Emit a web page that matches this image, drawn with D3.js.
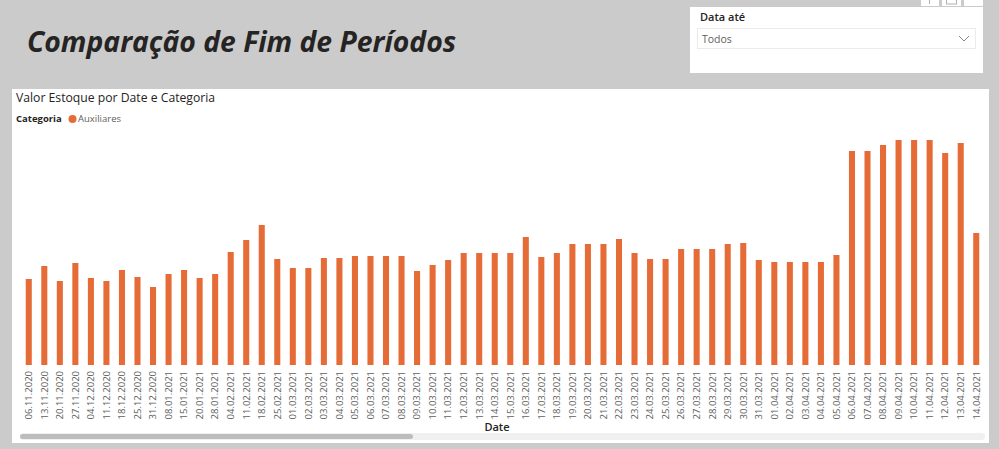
<!DOCTYPE html>
<html>
<head>
<meta charset="utf-8">
<script src="https://cdn.jsdelivr.net/npm/d3@7"></script>
<style>
  body { margin: 0; background: #cbcbcb; }
  svg { display: block; }
</style>
</head>
<body>
<div id="chart"></div>
<script>
// data
var dates = ["06.11.2020","13.11.2020","20.11.2020","27.11.2020","04.12.2020","11.12.2020","18.12.2020","25.12.2020","31.12.2020",
  "08.01.2021","15.01.2021","20.01.2021","28.01.2021","04.02.2021","11.02.2021","18.02.2021","25.02.2021",
  "01.03.2021","02.03.2021","03.03.2021","04.03.2021","05.03.2021","06.03.2021","07.03.2021","08.03.2021","09.03.2021","10.03.2021",
  "11.03.2021","12.03.2021","13.03.2021","14.03.2021","15.03.2021","16.03.2021","17.03.2021","18.03.2021","19.03.2021","20.03.2021",
  "21.03.2021","22.03.2021","23.03.2021","24.03.2021","25.03.2021","26.03.2021","27.03.2021","28.03.2021","29.03.2021","30.03.2021",
  "31.03.2021","01.04.2021","02.04.2021","03.04.2021","04.04.2021","05.04.2021","06.04.2021","07.04.2021","08.04.2021","09.04.2021",
  "10.04.2021","11.04.2021","12.04.2021","13.04.2021","14.04.2021"];
var auxiliares = [86, 99, 84, 102, 87, 84, 95, 88, 78,
  91, 95, 87, 91, 113, 125, 140, 106,
  97, 97, 107, 107, 109, 109, 109, 109, 94, 100,
  105, 112, 112, 112, 112, 128, 108, 112, 121, 121,
  121, 126, 112, 106, 106, 116, 116, 116, 121, 122,
  105, 103, 103, 103, 103, 110, 214, 214, 220, 225,
  225, 225, 212, 222, 132];
var categories = ["Auxiliares"];

var width = 999, height = 449;
var svg = d3.select("#chart")
  .append("svg")
    .attr("width", width)
    .attr("height", height);

// page background
svg.append("rect").attr("width", width).attr("height", height).attr("fill", "#cbcbcb");

// page title
svg.append("text")
  .attr("x", 27)
  .attr("y", 52)
  .style("font-family", "'Open Sans', sans-serif")
  .style("font-weight", "700")
  .style("font-style", "italic")
  .style("font-size", "28.3px")
  .attr("fill", "#252423")
  .text("Comparação de Fim de Períodos");

// slicer header icons
[[921, 18], [942, 19], [964, 19]].forEach(function(d) {
  svg.append("rect").attr("x", d[0]).attr("y", 0).attr("width", d[1]).attr("height", 6)
    .attr("fill", "#ffffff");
});
svg.append("line").attr("x1", 929.5).attr("x2", 929.5).attr("y1", 0).attr("y2", 4).attr("stroke", "#b0b0b0");
svg.append("rect").attr("x", 946.5).attr("y", -1).attr("width", 10).attr("height", 5).attr("fill", "none").attr("stroke", "#b0b0b0");

// slicer
svg.append("rect").attr("x", 690).attr("y", 7).attr("width", 293).attr("height", 66).attr("fill", "#ffffff");
svg.append("text").attr("x", 700).attr("y", 21)
  .style("font-family", "'Open Sans', sans-serif").style("font-size", "11px").style("font-weight", "600")
  .attr("fill", "#252423").text("Data até");
svg.append("rect").attr("x", 697.5).attr("y", 28.5).attr("width", 278).attr("height", 20)
  .attr("fill", "#ffffff").attr("stroke", "#ebebeb");
svg.append("text").attr("x", 702).attr("y", 42.5)
  .style("font-family", "'Open Sans', sans-serif").style("font-size", "10.5px")
  .attr("fill", "#605e5c").text("Todos");
svg.append("path").attr("d", "M959,36 L964,41 L969,36").attr("fill", "none").attr("stroke", "#8a8886").attr("stroke-width", 1);

// visual container
svg.append("rect").attr("x", 12).attr("y", 89).attr("width", 977).attr("height", 354).attr("fill", "#ffffff");

svg.append("text").attr("x", 16).attr("y", 102)
  .style("font-family", "'Open Sans', sans-serif").style("font-size", "12.2px")
  .attr("fill", "#252423").text("Valor Estoque por Date e Categoria");

// legend
svg.append("text").attr("x", 16).attr("y", 122)
  .style("font-family", "'Open Sans', sans-serif").style("font-size", "9.5px").style("font-weight", "700")
  .attr("fill", "#252423").text("Categoria");
var color = d3.scaleOrdinal().domain(categories).range(["#e66c37"]);
svg.append("circle").attr("cx", 72.5).attr("cy", 119).attr("r", 4).attr("fill", color("Auxiliares"));
svg.append("text").attr("x", 78).attr("y", 122)
  .style("font-family", "'Open Sans', sans-serif").style("font-size", "9.5px")
  .attr("fill", "#605e5c").text("Auxiliares");

// scales
var x = d3.scaleBand()
  .domain(dates)
  .range([21, 984])
  .paddingInner(0.61)
  .paddingOuter(0.305);

var y = d3.scaleLinear()
  .domain([0, 235])
  .range([365, 130]);

// bars
svg.selectAll("rect.bar")
  .data(dates)
  .enter()
  .append("rect")
    .attr("class", "bar")
    .attr("x", function(d) { return x(d); })
    .attr("y", function(d, i) { return y(auxiliares[i]); })
    .attr("width", x.bandwidth())
    .attr("height", function(d, i) { return y(0) - y(auxiliares[i]); })
    .attr("fill", color("Auxiliares"));

// x axis
var xAxis = svg.append("g")
  .attr("transform", "translate(0,365)")
  .call(d3.axisBottom(x).tickSize(0));
xAxis.select(".domain").remove();
xAxis.selectAll("text")
  .attr("transform", "rotate(-90)")
  .attr("text-anchor", "end")
  .attr("x", -6)
  .attr("y", 0)
  .attr("dy", "0.35em")
  .style("font-family", "'Open Sans', sans-serif")
  .style("font-size", "9.5px")
  .attr("fill", "#605e5c");

// x axis title
svg.append("text")
  .attr("x", 497)
  .attr("y", 431)
  .attr("text-anchor", "middle")
  .style("font-family", "'Open Sans', sans-serif")
  .style("font-size", "11px")
  .style("font-weight", "600")
  .attr("fill", "#252423")
  .text("Date");

// scrollbar
svg.append("rect").attr("x", 20).attr("y", 433).attr("width", 965).attr("height", 7).attr("rx", 3.5).attr("fill", "#f0f0f0");
svg.append("rect").attr("x", 20).attr("y", 434).attr("width", 393).attr("height", 5).attr("rx", 2.5).attr("fill", "#bdbdbd");
</script>
</body>
</html>
